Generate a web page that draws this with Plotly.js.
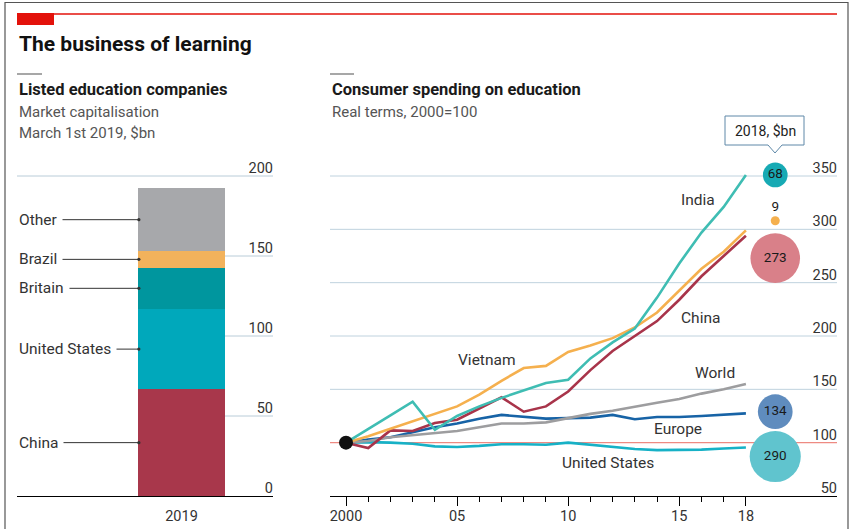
<!DOCTYPE html>
<html><head><meta charset="utf-8">
<script src="https://cdn.plot.ly/plotly-3.0.1.min.js"></script>
<style>html,body{margin:0;padding:0;background:#fff}#chart{width:852px;height:529px}</style>
</head><body><div id="chart"></div>
<script>
// ---------- Left panel: listed education companies, market cap, March 1st 2019, $bn
const capCategories = ['China', 'United States', 'Britain', 'Brazil', 'Other'];
const capValues = [66.7, 50.2, 25.8, 10.4, 39.2];
const capColors = ['#A8374B', '#00A8BB', '#00969E', '#F2B25C', '#A7A8AB'];
const capYearLabel = ['2019'];
const capTicks = [0, 50, 100, 150, 200];

// ---------- Right panel: consumer spending on education, real terms, 2000=100
const years = [2000, 2001, 2002, 2003, 2004, 2005, 2006, 2007, 2008, 2009,
               2010, 2011, 2012, 2013, 2014, 2015, 2016, 2017, 2018];
const india   = [100, 112.5, 125.5, 138.5, 112, 125, 134, 142, 149, 156, 159, 179, 194, 207, 236, 268, 297, 321, 351];
const vietnam = [100, 106, 113, 120, 127, 134, 145, 158, 170, 172, 185, 191, 198, 208, 222, 243, 263, 279, 299];
const china   = [100, 95, 111.5, 111, 118.5, 121.5, 132, 142.5, 129, 134, 148, 168, 186, 200, 214, 234, 256, 275, 294];
const world   = [100, 101.5, 105, 107, 109, 111, 114.5, 118, 118, 119, 123, 127, 130, 134, 137.5, 141, 146, 150, 155];
const europe  = [100, 103, 105, 110, 114.5, 118, 122.5, 126, 124.5, 122.5, 123, 123.5, 126, 122, 124, 124, 125, 126, 127.5];
const usa     = [100, 100.5, 100, 99, 96.5, 96, 97, 98.5, 98.5, 98, 100, 98, 95.5, 94, 93, 93, 93.5, 94.5, 95.5];
const seriesNames = ['United States', 'Europe', 'World', 'China', 'Vietnam', 'India'];
const seriesData = [usa, europe, world, china, vietnam, india];
const seriesColors = ['#17B1C6', '#1763A6', '#9D9D9F', '#A8344A', '#F5B04E', '#3FBDB3'];
const spendTicks = [50, 100, 150, 200, 250, 300, 350];
const yearTickVals = [2000, 2005, 2010, 2015, 2018];
const yearTickText = ['2000', '05', '10', '15', '18'];

// 2018 spending, $bn (bubbles)
const bubbleNames = ['India', 'Vietnam', 'China', 'Europe', 'United States'];
const bubbleValues = [68, 9, 273, 134, 290];
const bubbleY = [351, 308, 273, 129, 87];
const bubbleColors = ['#17AAB4', '#F5B04E', '#D98089', '#5F8CBE', '#60C4CE'];

// ---------- layout helpers
const W = 852, H = 529;
const P = x => x / W;
const Q = y => 1 - y / H;
const FONT = 'Roboto, "Noto Sans", sans-serif';
// plot band: axis baseline at 496px; values 0..200 (left) and 50..350 (right) span 496px..176px
const yDom = [Q(510), Q(150)];
const yRangeL = [-14 / 1.6, 346 / 1.6];
const yRangeR = [50 - 14 / (320 / 300), 50 + 346 / (320 / 300)];
const xL = [-1.891, 1.052];
const xR = [1999.28, 2022.1];
const bubbleX = 2019.32;

const traces = [];
capCategories.forEach((c, i) => {
  traces.push({type: 'bar', xaxis: 'x', yaxis: 'y', x: [0], y: [capValues[i]], width: [1],
    marker: {color: capColors[i], line: {width: 0}}, name: c, hoverinfo: 'skip'});
});
seriesNames.forEach((n, i) => {
  traces.push({type: 'scatter', mode: 'lines', xaxis: 'x2', yaxis: 'y2', x: years, y: seriesData[i],
    line: {color: seriesColors[i], width: 2.6}, name: n, hoverinfo: 'skip'});
});
traces.push({type: 'scatter', mode: 'markers', xaxis: 'x2', yaxis: 'y2', x: [years[0]], y: [india[0]],
  marker: {color: '#111', size: 14}, hoverinfo: 'skip', cliponaxis: false});
traces.push({type: 'scatter', mode: 'markers+text', xaxis: 'x2', yaxis: 'y2',
  x: bubbleValues.map(() => bubbleX), y: bubbleY,
  marker: {size: bubbleValues, sizemode: 'area', sizeref: 0.2222, color: bubbleColors, line: {width: 0}, opacity: 1},
  text: bubbleValues.map(String),
  textposition: bubbleValues.map(v => v < 20 ? 'top center' : 'middle center'),
  textfont: {family: FONT, size: 13.5, color: '#1a1a1a'},
  cliponaxis: false, hoverinfo: 'skip'});

// stacked midpoints for labels
const mids = [];
let acc = 0;
capValues.forEach(v => { mids.push(acc + v / 2); acc += v; });
const capTotal = acc;

const shapes = [];
// left gridlines
capTicks.forEach(t => {
  if (t === 0) return;
  shapes.push({type: 'line', xref: 'x', yref: 'y', x0: t > capTotal ? xL[0] : 0.5, x1: xL[1], y0: t, y1: t,
    line: {color: '#B9CCD8', width: 1}, layer: 'below'});
});
// right gridlines (50 is the axis line, 100 is the red reference line)
spendTicks.forEach(t => {
  if (t === spendTicks[0]) return;
  shapes.push({type: 'line', xref: 'x2', yref: 'y2', x0: xR[0], x1: xR[1], y0: t, y1: t,
    line: {color: t === 100 ? '#EE8A82' : '#BFD2DE', width: t === 100 ? 1.3 : 1}, layer: 'below'});
});
// frame
shapes.push({type: 'path', xref: 'paper', yref: 'paper',
  path: `M${P(5)},${Q(529)} L${P(5)},${Q(2.5)} L${P(848)},${Q(2.5)} L${P(848)},${Q(529)}`,
  line: {color: '#555', width: 1.2}});
// red rule and tab
shapes.push({type: 'line', xref: 'paper', yref: 'paper', x0: P(17), x1: P(837), y0: Q(14), y1: Q(14),
  line: {color: '#E3120B', width: 1.5}});
shapes.push({type: 'rect', xref: 'paper', yref: 'paper', x0: P(17), x1: P(54), y0: Q(13), y1: Q(25),
  fillcolor: '#E3120B', line: {width: 0}});
// small grey rules above subtitles
[[17, 42], [330, 354]].forEach(([a, b]) => shapes.push({type: 'line', xref: 'paper', yref: 'paper',
  x0: P(a), x1: P(b), y0: Q(74), y1: Q(74), line: {color: '#8a8a8a', width: 1.5}}));
// callout box
shapes.push({type: 'path', xref: 'paper', yref: 'paper',
  path: `M${P(725)},${Q(116)} L${P(804)},${Q(116)} L${P(804)},${Q(145)} L${P(782)},${Q(145)} L${P(775)},${Q(153)} L${P(768)},${Q(145)} L${P(725)},${Q(145)} Z`,
  fillcolor: '#fff', line: {color: '#5E88A8', width: 1}});

const annotations = [];
const txt = (x, y, text, size, color, opts = {}) => Object.assign({xref: 'paper', yref: 'paper', x: P(x), y: Q(y),
  text, showarrow: false, xanchor: 'left', yanchor: 'middle', font: {family: FONT, size, color}}, opts);
annotations.push(txt(17, 44, '<b>The business of learning</b>', 21, '#111'));
annotations.push(txt(17, 89, '<b>Listed education companies</b>', 16.5, '#1a1a1a'));
annotations.push(txt(17, 112, 'Market capitalisation', 15, '#555'));
annotations.push(txt(17, 133, 'March 1st 2019, $bn', 15, '#555'));
annotations.push(txt(330, 89, '<b>Consumer spending on education</b>', 16.5, '#1a1a1a'));
annotations.push(txt(330, 112, 'Real terms, 2000=100', 15, '#555'));
annotations.push(txt(765, 130.5, '2018, $bn', 14, '#222', {xanchor: 'center'}));

// left leader labels
capCategories.forEach((c, i) => {
  annotations.push({xref: 'x', yref: 'y', x: -0.49, y: mids[i], axref: 'x', ayref: 'y', ax: xL[0], ay: mids[i],
    xanchor: 'left', yanchor: 'middle', text: c, showarrow: true, arrowhead: 6, arrowsize: 0.8, arrowwidth: 1,
    standoff: 0, startstandoff: 4,
    arrowcolor: '#333', font: {family: FONT, size: 15.5, color: '#333'}});
});
// right line labels
const lineLabels = [
  ['India', 2015.86, 327.5], ['China', 2015.95, 217], ['Vietnam', 2006.35, 177.5],
  ['World', 2016.62, 165.3], ['Europe', 2014.95, 112.8], ['United States', 2011.8, 81]
];
lineLabels.forEach(([t, x, y]) => annotations.push({xref: 'x2', yref: 'y2', x, y, text: t, showarrow: false,
  xanchor: 'center', yanchor: 'middle', font: {family: FONT, size: 15.5, color: '#333'}}));

const tickFont = {family: FONT, size: 14.5, color: '#333'};
const layout = {
  width: W, height: H, margin: {l: 0, r: 0, t: 0, b: 0},
  paper_bgcolor: '#fff', plot_bgcolor: 'rgba(0,0,0,0)',
  showlegend: false, barmode: 'stack', bargap: 0,
  font: {family: FONT},
  xaxis: {domain: [P(17), P(273)], range: xL, anchor: 'free', position: Q(496), tickmode: 'array', tickvals: [0], ticktext: capYearLabel,
    showline: true, linecolor: '#000', linewidth: 1.3, ticks: '', showgrid: false, zeroline: false,
    tickfont: tickFont, ticklabelstandoff: 6, fixedrange: true},
  yaxis: {domain: yDom, range: yRangeL, anchor: 'x', side: 'right', tickmode: 'array', tickvals: capTicks,
    ticklabelposition: 'inside', ticklabelshift: -8, ticklabelstandoff: -3, showgrid: false, zeroline: false, showline: false, ticks: '',
    tickfont: tickFont, fixedrange: true},
  xaxis2: {domain: [P(330), P(837)], range: xR, anchor: 'free', position: Q(496), tickmode: 'array', tickvals: yearTickVals,
    ticktext: yearTickText, ticks: 'outside', ticklen: 9, tickwidth: 1, tickcolor: '#000',
    minor: {tickmode: 'array', tickvals: years, ticks: 'outside', ticklen: 5, tickwidth: 1, tickcolor: '#000', showgrid: false},
    showline: true, linecolor: '#000', linewidth: 1.3, showgrid: false, zeroline: false,
    tickfont: tickFont, ticklabelstandoff: -3, fixedrange: true},
  yaxis2: {domain: yDom, range: yRangeR, anchor: 'x2', side: 'right', tickmode: 'array', tickvals: spendTicks,
    ticklabelposition: 'inside', ticklabelshift: -8, ticklabelstandoff: -3, showgrid: false,
    zeroline: false, showline: false, ticks: '', tickfont: tickFont, fixedrange: true},
  shapes, annotations
};
Plotly.newPlot('chart', traces, layout, {displayModeBar: false, staticPlot: true});
</script></body></html>
